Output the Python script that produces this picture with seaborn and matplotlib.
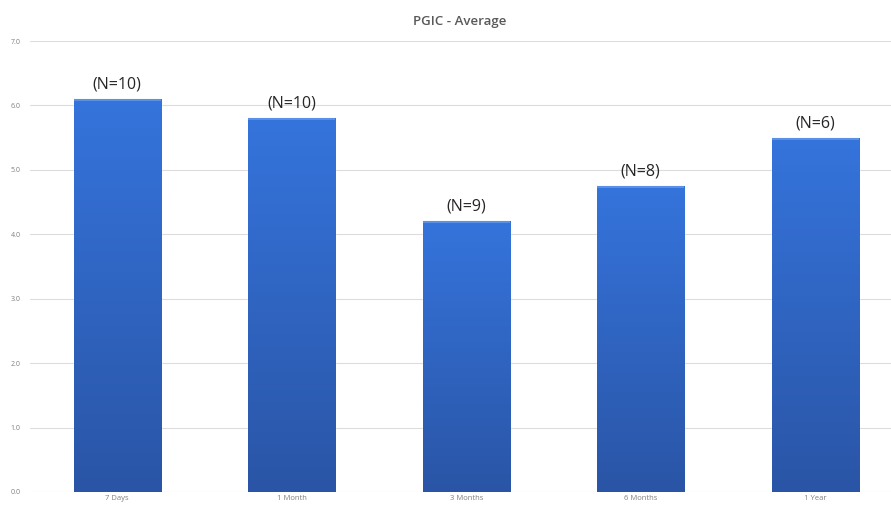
import numpy as np
import pandas as pd
import matplotlib
matplotlib.use('Agg')
import matplotlib.pyplot as plt
import seaborn as sns
from matplotlib.colors import LinearSegmentedColormap

categories = ['7 Days', '1 Month', '3 Months', '6 Months', '1 Year']
averages = [6.1, 5.8, 4.2, 4.75, 5.5]
n_labels = ['(N=10)', '(N=10)', '(N=9)', '(N=8)', '(N=6)']
yticks = [0, 1, 2, 3, 4, 5, 6, 7]

df = pd.DataFrame({'period': categories, 'avg': averages})

sns.set_theme(style='white')
plt.rcParams['font.family'] = ['Open Sans', 'DejaVu Sans']

fig = plt.figure(figsize=(8.91, 5.05), dpi=100)
ax = fig.add_axes([30 / 891, 13 / 505, 861 / 891, 451 / 505])

sns.barplot(data=df, x='period', y='avg', color='#2f63c4', width=0.5,
            saturation=1, ax=ax, zorder=2)

# vertical gradient on each bar, light at the top, darker at the base
cmap = LinearSegmentedColormap.from_list('bar', ['#2a55a6', '#3574dc'])
grad = np.linspace(0, 1, 256).reshape(-1, 1)
for p in ax.patches:
    x0, y0 = p.get_x(), p.get_y()
    w, h = p.get_width(), p.get_height()
    im = ax.imshow(grad, cmap=cmap, origin='lower', aspect='auto',
                   extent=[x0, x0 + w, y0, y0 + h], zorder=3)
    im.set_clip_path(p)
    ax.plot([x0, x0 + w], [y0 + h - 0.015, y0 + h - 0.015], color='#5a90e6',
            lw=1.5, zorder=4, solid_capstyle='butt')

for i, (v, lab) in enumerate(zip(averages, n_labels)):
    ax.text(i, v + 0.1, lab, ha='center', va='bottom', fontsize=11.5,
            color='#262626', zorder=5)

ax.set_xlim(-0.5, -0.5 + 861 / 174.5)
ax.set_ylim(0, 7)
ax.set_yticks(yticks)
ax.set_yticklabels([f'{t:.1f}' for t in yticks])
ax.yaxis.grid(True, color='#dcdcdc', lw=0.8, zorder=0)
ax.set_axisbelow(True)
for s in ax.spines.values():
    s.set_visible(False)
ax.tick_params(axis='y', labelsize=5, colors='#7f7f7f', pad=14, length=0)
ax.tick_params(axis='x', labelsize=5.5, colors='#7f7f7f', pad=2, length=0)
for t in ax.get_yticklabels():
    t.set_horizontalalignment('left')
ax.set_xlabel('')
ax.set_ylabel('')

fig.text(0.516, 0.958, 'PGIC - Average', ha='center', va='center',
         fontsize=9.5, fontweight='semibold', color='#595959')

fig.savefig('out.png', dpi=100)
